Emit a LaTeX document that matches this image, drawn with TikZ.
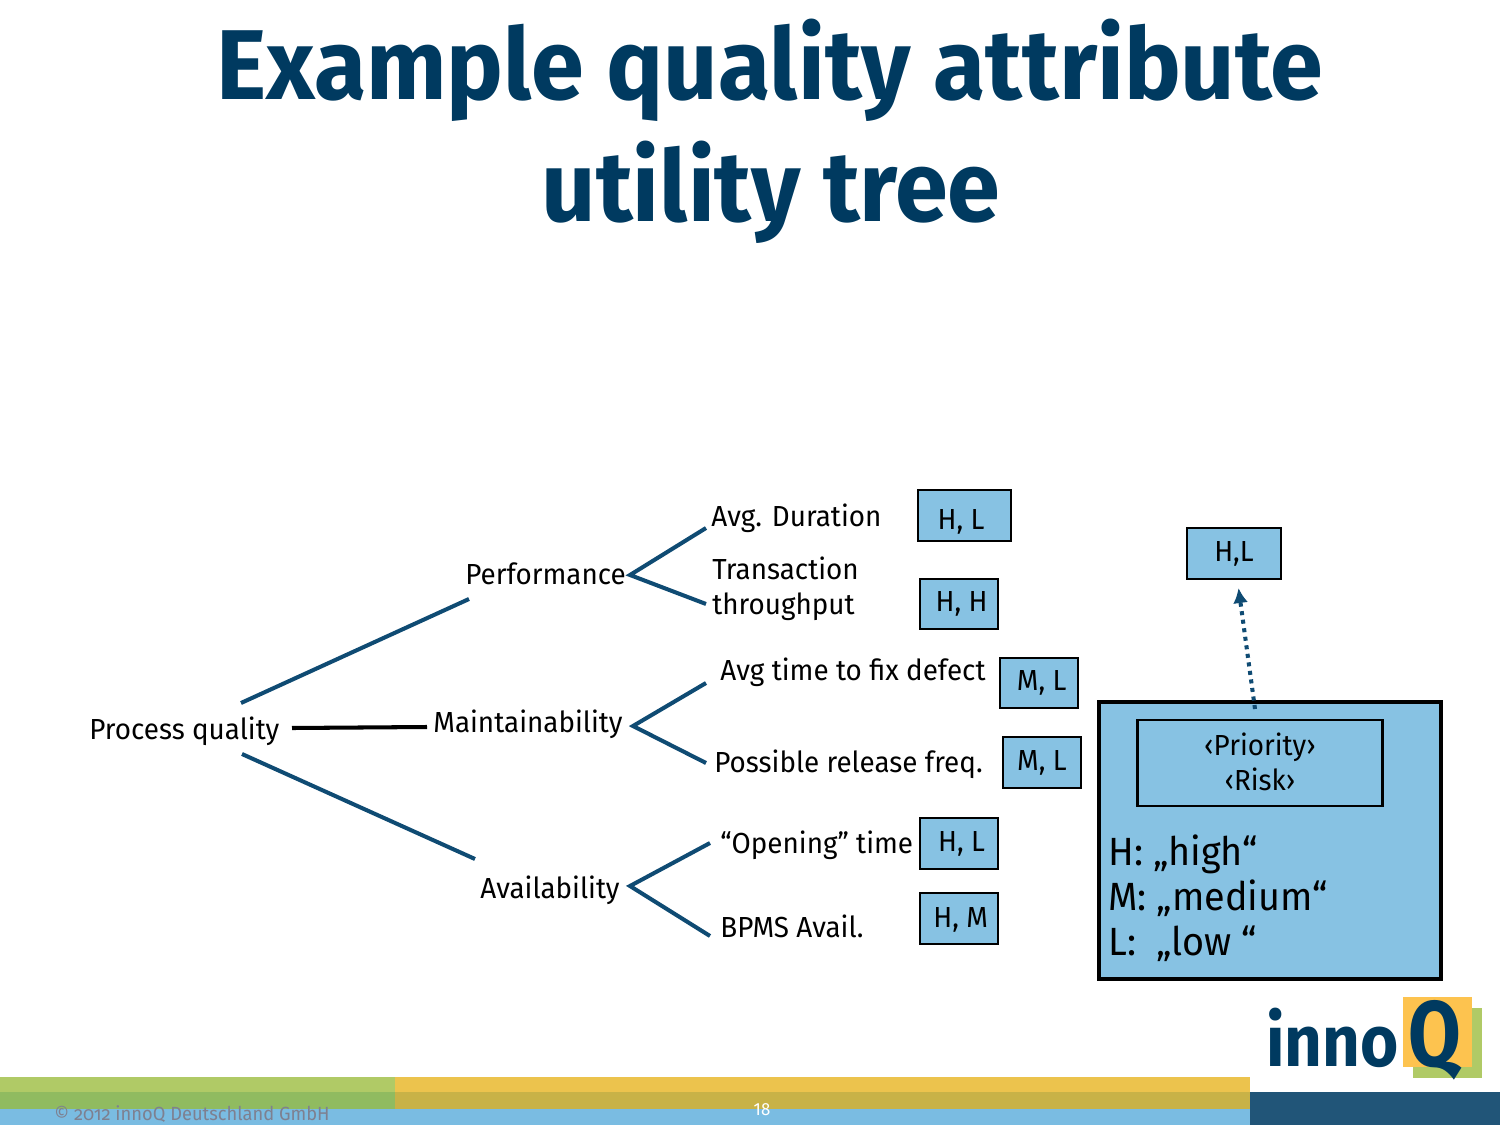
\documentclass[tikz,border=0pt]{standalone}
\usepackage{fontspec}
\setmainfont{Fira Sans}[FakeStretch=0.96]
\newfontfamily\innofont{Fira Sans}[FakeStretch=0.91]
\newfontfamily\qfont{Fira Sans}[FakeStretch=0.82]
\usetikzlibrary{arrows.meta,positioning}
\definecolor{titleblue}{HTML}{003A60}
\definecolor{linkblue}{HTML}{0F4B73}
\definecolor{boxblue}{HTML}{87C2E3}
\definecolor{barblue}{HTML}{7ABCE2}
\definecolor{bardark}{HTML}{215578}
\definecolor{bargreen}{HTML}{B0CA66}
\definecolor{bargreenb}{HTML}{90BB60}
\definecolor{bargold}{HTML}{ECC34D}
\definecolor{bargoldb}{HTML}{C8B247}
\definecolor{logogold}{HTML}{FDC34F}
\definecolor{footgray}{HTML}{7E8090}

\begin{document}
\begin{tikzpicture}[
  x=0.02cm, y=-0.02cm,
  titletext/.style={anchor=base, inner sep=0pt, text=titleblue, font=\fontsize{56.5}{60}\selectfont\bfseries},
  lbl/.style={anchor=base west, inner sep=0pt, font=\fontsize{16.5}{19.5}\selectfont},
  valbox/.style={draw, fill=boxblue, line width=1.2pt, inner sep=0pt, font=\fontsize{16.5}{19.5}\selectfont},
  branch/.style={draw=linkblue, line width=2.3pt, line cap=butt, line join=miter},
  band/.style={draw=none, inner sep=0pt, anchor=north west},
]
\useasboundingbox (0,0) rectangle (1500,1125);

% ======================= Title =======================
\node[titletext] (title1) at (770,100) {Example quality attribute};
\node[titletext] (title2) at (771,221) {utility tree};

% ======================= Tree labels =======================
\node[lbl] (process)  at (89,739)  {Process quality};
\node[lbl] (perf)     at (465,584) {Performance};
\node[lbl] (maint)    at (433,732) {Maintainability};
\node[lbl] (avail)    at (480,898) {Availability};

\node[lbl] (avgdur)   at (711,526) {Avg. Duration};
\node[lbl] (trans)    at (712,579) {Transaction};
\node[lbl] (through)  at (712,614) {throughput};
\node[lbl] (fixtime)  at (720,680) {Avg time to fix defect};
\node[lbl] (release)  at (714,772) {Possible release freq.};
\node[lbl] (opening)  at (720,853) {“Opening” time};
\node[lbl] (bpms)     at (720,937) {BPMS Avail.};

% ======================= Value boxes =======================
\node[valbox, minimum width=1.86cm, minimum height=1.02cm] (vdur)  at (964.5,515.5) {\raisebox{-8.2pt}[0pt][0pt]{H, L\hspace{4pt}}};
\node[valbox, minimum width=1.56cm, minimum height=1cm]    (vtput) at (959,604)     {\hspace{3pt}H, H};
\node[valbox, minimum width=1.56cm, minimum height=1cm]    (vfix)  at (1039,683)    {\hspace{3pt}M, L};
\node[valbox, minimum width=1.56cm, minimum height=1.02cm] (vrel)  at (1042,762.5)  {M, L};
\node[valbox, minimum width=1.56cm, minimum height=1.02cm] (vopen) at (959,843.5)   {\hspace{3pt}H, L};
\node[valbox, minimum width=1.56cm, minimum height=1.02cm] (vbpms) at (959,918.5)   {\raisebox{-5pt}[0pt][0pt]{\hspace{2pt}H, M}};
\node[valbox, minimum width=1.88cm, minimum height=1.02cm] (vkey)  at (1234,553.5)  {H,L};

% ======================= Legend =======================
\node[draw, fill=boxblue, line width=2.6pt, inner sep=0pt, minimum width=6.84cm, minimum height=5.54cm] (legend) at (1270,840.5) {};
\node[draw, line width=1.2pt, inner sep=0pt, minimum width=4.9cm, minimum height=1.72cm, align=center,
      font=\fontsize{16.5}{20}\selectfont] (scheme) at (1260,763) {\raisebox{1.1pt}{‹Priority›}\\\raisebox{1.1pt}{‹Risk›}};
\node[anchor=base west, inner sep=0pt, align=left, font=\fontsize{22.4}{25.5}\selectfont] (scale) at (1108,955)
  {H: „high“\\M: „medium“\\L:\ \ „low “};

% ======================= Connectors =======================
\coordinate (procup)    at (241,703);
\coordinate (perfin)    at (469,599);
\coordinate (procmid)   at (292,728);
\coordinate (maintin)   at (427,727);
\coordinate (procdown)  at (242,754);
\coordinate (availin)   at (475,859);

\draw[branch] (procup) -- (perfin);
\draw[branch, draw=black] (procmid) -- (maintin);
\draw[branch] (procdown) -- (availin);

% forks
\coordinate (perffork)  at (630,575);
\coordinate (durend)    at (706,528);
\coordinate (tputend)   at (706,604);
\coordinate (maintfork) at (633,726);
\coordinate (fixend)    at (706,683);
\coordinate (relend)    at (706,763);
\coordinate (availfork) at (630,886);
\coordinate (openend)   at (710,843);
\coordinate (bpmsend)   at (710,936);

\draw[branch] (durend) -- (perffork) -- (tputend);
\draw[branch] (fixend) -- (maintfork) -- (relend);
\draw[branch] (openend) -- (availfork) -- (bpmsend);

% legend to key
\coordinate (keyfoot) at (1255,709);
\coordinate (keytip)  at (1238.5,588);
\draw[draw=linkblue, line width=2.3pt, dash pattern=on 2.3pt off 2.6pt, -{Latex[length=3mm,width=3mm]}] (keyfoot) -- (keytip);

% ======================= Footer bands =======================
\node[band, fill=bargreen,  minimum width=7.9cm,  minimum height=0.3cm]  (b1) at (0,1077)    {};
\node[band, fill=bargold,   minimum width=17.1cm, minimum height=0.3cm]  (b2) at (395,1077)  {};
\node[band, fill=bargreenb, minimum width=7.9cm,  minimum height=0.34cm] (b3) at (0,1092)    {};
\node[band, fill=bargoldb,  minimum width=17.1cm, minimum height=0.34cm] (b4) at (395,1092)  {};
\node[band, fill=barblue,   minimum width=25cm,   minimum height=0.32cm] (b5) at (0,1109)    {};
\node[band, fill=bardark,   minimum width=5cm,    minimum height=0.66cm] (b6) at (1250,1092) {};

\node[lbl, text=footgray, font=\fontsize{10.85}{12}\selectfont\addfontfeatures{Numbers=OldStyle}] (copy) at (54,1120) {© 2012 innoQ Deutschland GmbH};
\node[anchor=base, inner sep=0pt, text=white, font=\rmfamily\fontsize{10}{12}\selectfont] (pageno) at (762,1115) {18};

% ======================= Logo =======================
\node[band, fill=bargreen, minimum width=1.38cm, minimum height=1.4cm] (logoback)  at (1413,1008) {};
\node[band, fill=logogold, minimum width=1.38cm, minimum height=1.4cm] (logofront) at (1403,997)  {};
\node[anchor=base west, inner sep=0pt, text=titleblue, font=\innofont\fontsize{41}{41}\selectfont\bfseries] (logoinno) at (1266,1066) {inno};
\node[anchor=base west, inner sep=0pt, text=titleblue, font=\qfont\fontsize{53}{53}\selectfont\bfseries] (logoq) at (1408,1066) {Q};
\end{tikzpicture}
\end{document}
